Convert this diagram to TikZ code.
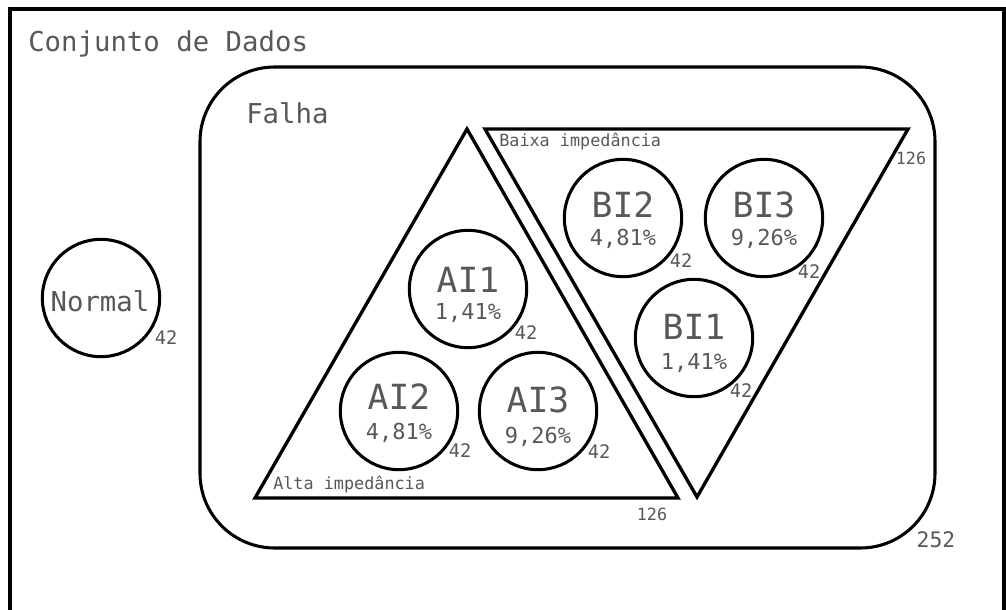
\documentclass[tikz,border=0pt]{standalone}
\usepackage{fontspec}
\newfontfamily\cmono{DejaVu Sans Mono}
\usetikzlibrary{calc}
\definecolor{txtgray}{RGB}{88,88,88}
\begin{document}
\begin{tikzpicture}[x=0.75pt,y=-0.75pt,
  frame/.style={line width=2.3pt,black},
  circ/.style={circle,draw,line width=2.3pt,minimum size=88pt,inner sep=0pt},
  bigtxt/.style={font=\cmono\fontsize{20.5}{24}\selectfont,text=txtgray,inner sep=0pt},
  cname/.style={font=\cmono\fontsize{26}{30}\selectfont,text=txtgray,inner sep=0pt},
  cpct/.style={font=\cmono\fontsize{16.5}{19}\selectfont,text=txtgray,inner sep=0pt},
  smalltxt/.style={font=\cmono\fontsize{12.6}{15}\selectfont,text=txtgray,inner sep=0pt},
  numtxt/.style={font=\cmono\fontsize{12.6}{15}\selectfont,text=txtgray,inner sep=0pt},
  fortytwo/.style={font=\cmono\fontsize{14}{16}\selectfont,text=txtgray,inner sep=0pt}
]
\useasboundingbox (0,0) rectangle (1006,610);
\fill[white] (0,0) rectangle (1006,610);
% outer frame
\coordinate (fbl) at (10,620);
\coordinate (ftl) at (10,9);
\coordinate (ftr) at (1004,9);
\coordinate (fbr) at (1004,620);
\draw[frame] (fbl) -- (ftl) -- (ftr) -- (fbr);
\node[bigtxt,anchor=west] (conj) at (28,44) {Conjunto de Dados};
% Falha rounded rectangle
\draw[frame,rounded corners=56pt] (200,67) rectangle (935,548);
\node[bigtxt,anchor=west] (falha) at (246,113) {Falha};
\node[font=\cmono\fontsize{16}{19}\selectfont,text=txtgray,inner sep=0pt] (n252) at (936,540) {252};
% Alta triangle
\coordinate (a1) at (255,498);
\coordinate (a2) at (678,498);
\coordinate (a3) at (467,129);
\draw[frame,line width=2.5pt,line join=miter] (a1) -- (a2) -- (a3) -- cycle;
\node[smalltxt,anchor=west] (alta) at (273,485) {Alta impedância};
\node[numtxt] (n126a) at (652,514) {126};
% Baixa triangle
\coordinate (b1) at (485,129);
\coordinate (b2) at (908,129);
\coordinate (b3) at (697,497);
\draw[frame,line width=2.5pt,line join=miter] (b1) -- (b2) -- (b3) -- cycle;
\node[smalltxt,anchor=west] (baixa) at (499,142) {Baixa impedância};
\node[numtxt] (n126b) at (911,158) {126};
% Normal
\node[circ] (normal) at (101,298) {};
\node[bigtxt] (normaltxt) at (100,301) {Normal};
\node[fortytwo] at ($(normal)+(65,40)$) {42};
% AI circles
\node[circ] (ai1) at (468,289) {};
\node[cname] at ($(ai1)+(0,-9)$) {AI1};
\node[cpct] at ($(ai1)+(0,24)$) {1,41\%};
\node[fortytwo] at ($(ai1)+(58,44)$) {42};
\node[circ] (ai2) at (399,411) {};
\node[cname] at ($(ai2)+(0,-14)$) {AI2};
\node[cpct] at ($(ai2)+(0,22)$) {4,81\%};
\node[fortytwo] at ($(ai2)+(61,40)$) {42};
\node[circ] (ai3) at (538,411) {};
\node[cname] at ($(ai3)+(0,-11)$) {AI3};
\node[cpct] at ($(ai3)+(0,26)$) {9,26\%};
\node[fortytwo] at ($(ai3)+(61,41)$) {42};
% BI circles
\node[circ] (bi2) at (623,218) {};
\node[cname] at ($(bi2)+(0,-13)$) {BI2};
\node[cpct] at ($(bi2)+(0,21)$) {4,81\%};
\node[fortytwo] at ($(bi2)+(58,43)$) {42};
\node[circ] (bi3) at (764,218) {};
\node[cname] at ($(bi3)+(0,-13)$) {BI3};
\node[cpct] at ($(bi3)+(0,21)$) {9,26\%};
\node[fortytwo] at ($(bi3)+(45,54)$) {42};
\node[circ] (bi1) at (694,338) {};
\node[cname] at ($(bi1)+(0,-11)$) {BI1};
\node[cpct] at ($(bi1)+(0,25)$) {1,41\%};
\node[fortytwo] at ($(bi1)+(47,53)$) {42};
\end{tikzpicture}
\end{document}
